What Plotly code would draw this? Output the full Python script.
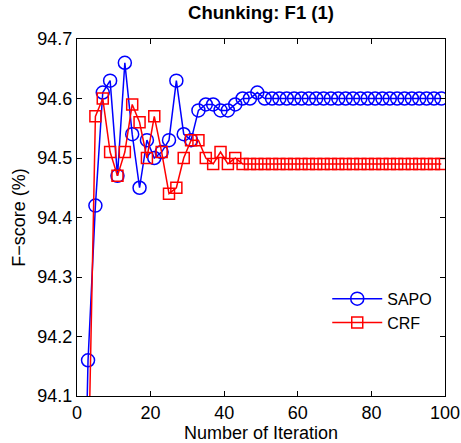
import plotly.graph_objects as go

iterations = list(range(1, 100, 2))
sapo_head = [93.6, 94.16, 94.42, 94.61, 94.63, 94.47, 94.66, 94.54, 94.45, 94.53,
             94.50, 94.51, 94.53, 94.63, 94.54, 94.53, 94.58, 94.59, 94.59, 94.58,
             94.58, 94.59, 94.60, 94.60, 94.61]
sapo = sapo_head + [94.60] * (len(iterations) - len(sapo_head))
crf_head = [93.5, 93.95, 94.57, 94.60, 94.51, 94.47, 94.51, 94.59, 94.56, 94.50,
            94.57, 94.51, 94.44, 94.45, 94.50, 94.53, 94.53, 94.50, 94.49, 94.51,
            94.49, 94.50, 94.49]
crf = crf_head + [94.49] * (len(iterations) - len(crf_head))

x_ticks = [0, 20, 40, 60, 80, 100]
y_ticks = [94.1, 94.2, 94.3, 94.4, 94.5, 94.6, 94.7]

FONT = "Liberation Sans, Arial, sans-serif"

fig = go.Figure()
fig.add_trace(go.Scatter(
    x=iterations, y=sapo, name="SAPO", mode="lines+markers",
    line=dict(color="rgb(0,0,255)", width=1.5),
    marker=dict(symbol="circle-open", size=13, color="rgb(0,0,255)", line=dict(width=1.5)),
))
fig.add_trace(go.Scatter(
    x=iterations, y=crf, name="CRF", mode="lines+markers",
    line=dict(color="rgb(255,0,0)", width=1.5),
    marker=dict(symbol="square-open", size=11, color="rgb(255,0,0)", line=dict(width=1.5)),
))

axis_common = dict(
    showline=True, linecolor="black", linewidth=1.2, mirror="allticks",
    ticks="inside", ticklen=5, tickcolor="black", showgrid=False, zeroline=False,
    automargin=False,
    tickfont=dict(family=FONT, size=18, color="black"),
)

fig.update_layout(
    width=461, height=443,
    margin=dict(l=77, r=16, t=39, b=47, autoexpand=False),
    paper_bgcolor="white", plot_bgcolor="white",
    font=dict(family=FONT, color="black"),
    title=dict(text="<b>Chunking: F1 (1)</b>", x=(77 + 445) / 2 / 461, xanchor="center",
               y=1 - 13 / 443, yanchor="middle", font=dict(family=FONT, size=18.5, color="black")),
    xaxis=dict(range=[0, 100], tickvals=x_ticks, ticktext=[str(v) for v in x_ticks],
               title=dict(text="Number of Iteration", font=dict(family=FONT, size=18), standoff=2),
               **axis_common),
    yaxis=dict(range=[94.1, 94.7], tickvals=y_ticks, ticktext=[f"{v:.1f}" for v in y_ticks],
               title=dict(text="F\u2212score (%)", font=dict(family=FONT, size=18), standoff=6),
               **axis_common),
    legend=dict(x=0.68, y=0.32, xanchor="left", yanchor="top", bgcolor="rgba(255,255,255,0)",
                font=dict(family=FONT, size=16, color="black"), tracegroupgap=0, itemwidth=50),
    showlegend=True,
)

fig.write_html("out.html", config={"displayModeBar": False},
               post_script="document.body.style.margin='0px';")
